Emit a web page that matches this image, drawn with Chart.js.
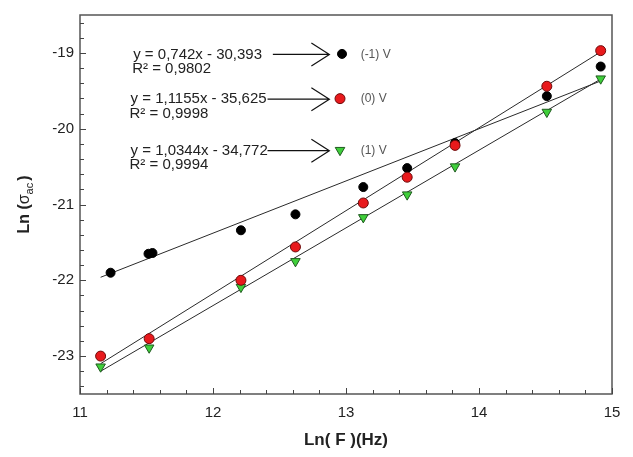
<!DOCTYPE html>
<html>
<head>
<meta charset="utf-8">
<script src="https://cdn.jsdelivr.net/npm/chart.js@4.4.0/dist/chart.umd.min.js"></script>
<style>
  html, body { margin: 0; padding: 0; background: #fff; }
</style>
</head>
<body>
<canvas id="chart" width="633" height="457"></canvas>
<script>
// Ln(F) and Ln(sigma_ac)
const blackX = [11.23, 11.515, 11.545, 12.21, 12.62, 13.13, 13.46, 13.82, 14.51, 14.915];
const blackY = [-21.90, -21.65, -21.64, -21.34, -21.13, -20.77, -20.52, -20.19, -19.57, -19.18];
const redX = [11.155, 11.52, 12.21, 12.62, 13.13, 13.46, 13.82, 14.51, 14.915];
const redY = [-23.00, -22.77, -22.00, -21.56, -20.98, -20.64, -20.22, -19.44, -18.97];
const greenX = [11.155, 11.52, 12.21, 12.62, 13.13, 13.46, 13.82, 14.51, 14.915];
const greenY = [-23.14, -22.89, -22.09, -21.75, -21.17, -20.87, -20.50, -19.78, -19.34];

// end points of the fitted lines
const fitX = [11.155, 14.93];
const blackFit = [-21.96, -19.36];
const redFit = [-23.10, -18.97];
const greenFit = [-23.20, -19.33];

const xTicks = [11, 12, 13, 14, 15];
const yTicks = [-23, -22, -21, -20, -19];

const seriesLabels = ['(-1) V', '(0) V', '(1) V'];
const equations = ['y = 0,742x - 30,393', 'y = 1,1155x - 35,625', 'y = 1,0344x - 34,772'];
const r2Labels = ['R² = 0,9802', 'R² = 0,9998', 'R² = 0,9994'];

const FONT = 'Arial, "Liberation Sans", sans-serif';

function toPoints(xs, ys) {
  return xs.map((v, i) => ({ x: v, y: ys[i] }));
}

const markerStyles = [
  { fill: '#000000', stroke: '#000000', shape: 'circle', r: 4.5 },
  { fill: '#e8191c', stroke: '#6e0a0a', shape: 'circle', r: 5 },
  { fill: '#3fcf3a', stroke: '#1f5a1f', shape: 'triangle', r: 5.5 }
];

// where the equation boxes sit (data units)
const notes = [
  { textX: 11.40, y: -19.02, lineFrom: 12.45 },
  { textX: 11.38, y: -19.61, lineFrom: 12.41 },
  { textX: 11.38, y: -20.29, lineFrom: 12.41 }
];

function drawMarker(ctx, st, px, py) {
  ctx.beginPath();
  if (st.shape === 'circle') {
    ctx.arc(px, py, st.r, 0, Math.PI * 2);
  } else {
    const r = st.r;
    ctx.moveTo(px - r * 0.87, py - r * 0.5);
    ctx.lineTo(px + r * 0.87, py - r * 0.5);
    ctx.lineTo(px, py + r);
    ctx.closePath();
  }
  ctx.fillStyle = st.fill;
  ctx.fill();
  ctx.strokeStyle = st.stroke;
  ctx.lineWidth = 1;
  ctx.stroke();
}

const figurePlugin = {
  id: 'figure',
  afterDraw(chart) {
    const { ctx, chartArea: a, scales: { x, y } } = chart;
    ctx.save();

    // frame
    ctx.strokeStyle = '#555';
    ctx.lineWidth = 1.5;
    ctx.strokeRect(a.left, a.top, a.right - a.left, a.bottom - a.top);

    // inward ticks
    ctx.lineWidth = 1;
    ctx.strokeStyle = '#444';
    for (let i = 0; i <= 20; i++) {
      const px = Math.round(x.getPixelForValue(11 + i * 0.2)) + 0.5;
      const len = i % 5 === 0 ? 6 : 4;
      ctx.beginPath();
      ctx.moveTo(px, a.bottom);
      ctx.lineTo(px, a.bottom - len);
      ctx.stroke();
    }
    for (let i = 0; i <= 24; i++) {
      const v = -23.4 + i * 0.2;
      const py = Math.round(y.getPixelForValue(v)) + 0.5;
      const major = Math.abs(v - Math.round(v)) < 1e-6;
      ctx.beginPath();
      ctx.moveTo(a.left, py);
      ctx.lineTo(a.left + (major ? 6 : 4), py);
      ctx.stroke();
    }

    // equations, arrows and series markers
    const tipX = x.getPixelForValue(12.875);
    const markX = x.getPixelForValue(12.955);
    const labX = x.getPixelForValue(13.11);
    notes.forEach((n, i) => {
      const py = y.getPixelForValue(n.y);
      ctx.fillStyle = '#222';
      ctx.font = '15px ' + FONT;
      ctx.textAlign = 'left';
      ctx.textBaseline = 'middle';
      const tx = x.getPixelForValue(n.textX);
      ctx.fillText(equations[i], tx, py);
      ctx.fillText(r2Labels[i], tx - 1, py + 14.5);

      ctx.strokeStyle = '#111';
      ctx.lineWidth = 1.2;
      ctx.beginPath();
      ctx.moveTo(x.getPixelForValue(n.lineFrom), py);
      ctx.lineTo(tipX, py);
      ctx.moveTo(tipX - 18, py - 11.5);
      ctx.lineTo(tipX, py);
      ctx.lineTo(tipX - 18, py + 11.5);
      ctx.stroke();

      drawMarker(ctx, markerStyles[i], i === 0 ? markX + 2 : markX, py - 0.5);

      ctx.fillStyle = '#555';
      ctx.font = '12px ' + FONT;
      ctx.fillText(seriesLabels[i], labX, py);
    });

    // axis titles
    ctx.fillStyle = '#222';
    ctx.font = 'bold 17px ' + FONT;
    ctx.textAlign = 'center';
    ctx.textBaseline = 'middle';
    ctx.fillText('Ln( F )(Hz)', (a.left + a.right) / 2, 440);

    ctx.translate(25, (a.top + a.bottom) / 2);
    ctx.rotate(-Math.PI / 2);
    const p1 = 'Ln (', p2 = '\u03c3', p3 = 'ac', p4 = ')';
    ctx.font = 'bold 16px ' + FONT;
    const w1 = ctx.measureText(p1).width;
    ctx.font = '16px ' + FONT;
    const w2 = ctx.measureText(p2).width;
    ctx.font = '11px ' + FONT;
    const w3 = ctx.measureText(p3).width;
    ctx.font = 'bold 16px ' + FONT;
    const w4 = ctx.measureText(p4).width;
    let cx = -(w1 + w2 + w3 + w4 + 2) / 2;
    ctx.textAlign = 'left';
    ctx.fillText(p1, cx, 0); cx += w1;
    ctx.font = '16px ' + FONT;
    ctx.fillText(p2, cx, 0); cx += w2;
    ctx.font = '11px ' + FONT;
    ctx.fillText(p3, cx, 5); cx += w3 + 2;
    ctx.font = 'bold 16px ' + FONT;
    ctx.fillText(p4, cx, 0);

    ctx.restore();
  }
};

const lineStyle = { showLine: true, pointRadius: 0, borderColor: '#2a2a2a', borderWidth: 1, fill: false };

new Chart(document.getElementById('chart'), {
  type: 'scatter',
  data: {
    datasets: [
      { label: '(0) V', data: toPoints(redX, redY), pointStyle: 'circle', pointRadius: 5,
        backgroundColor: markerStyles[1].fill, borderColor: markerStyles[1].stroke, borderWidth: 1 },
      { label: '(1) V', data: toPoints(greenX, greenY), pointStyle: 'triangle', rotation: 180, pointRadius: 5.5,
        backgroundColor: markerStyles[2].fill, borderColor: markerStyles[2].stroke, borderWidth: 1 },
      { label: '(-1) V', data: toPoints(blackX, blackY), pointStyle: 'circle', pointRadius: 4.5,
        backgroundColor: '#000', borderColor: '#000', borderWidth: 1 },
      Object.assign({ label: 'fit (0) V', data: toPoints(fitX, redFit) }, lineStyle),
      Object.assign({ label: 'fit (1) V', data: toPoints(fitX, greenFit) }, lineStyle),
      Object.assign({ label: 'fit (-1) V', data: toPoints(fitX, blackFit) }, lineStyle)
    ]
  },
  options: {
    responsive: false,
    animation: false,
    layout: { padding: { top: 10, right: 21, left: 0, bottom: 0 } },
    plugins: { legend: { display: false }, tooltip: { enabled: false } },
    scales: {
      x: {
        type: 'linear', min: 11, max: 15,
        afterFit(s) { s.height = 63; },
        afterBuildTicks(s) { s.ticks = xTicks.map(v => ({ value: v })); },
        grid: { display: false, drawTicks: false },
        border: { display: false },
        ticks: { padding: 10, color: '#222', font: { family: FONT, size: 15 } }
      },
      y: {
        type: 'linear', min: -23.5, max: -18.5,
        afterFit(s) { s.width = 80; },
        afterBuildTicks(s) { s.ticks = yTicks.map(v => ({ value: v })); },
        grid: { display: false, drawTicks: false },
        border: { display: false },
        ticks: { padding: 6, color: '#222', font: { family: FONT, size: 15 } }
      }
    }
  },
  plugins: [figurePlugin]
});
</script>
</body>
</html>
